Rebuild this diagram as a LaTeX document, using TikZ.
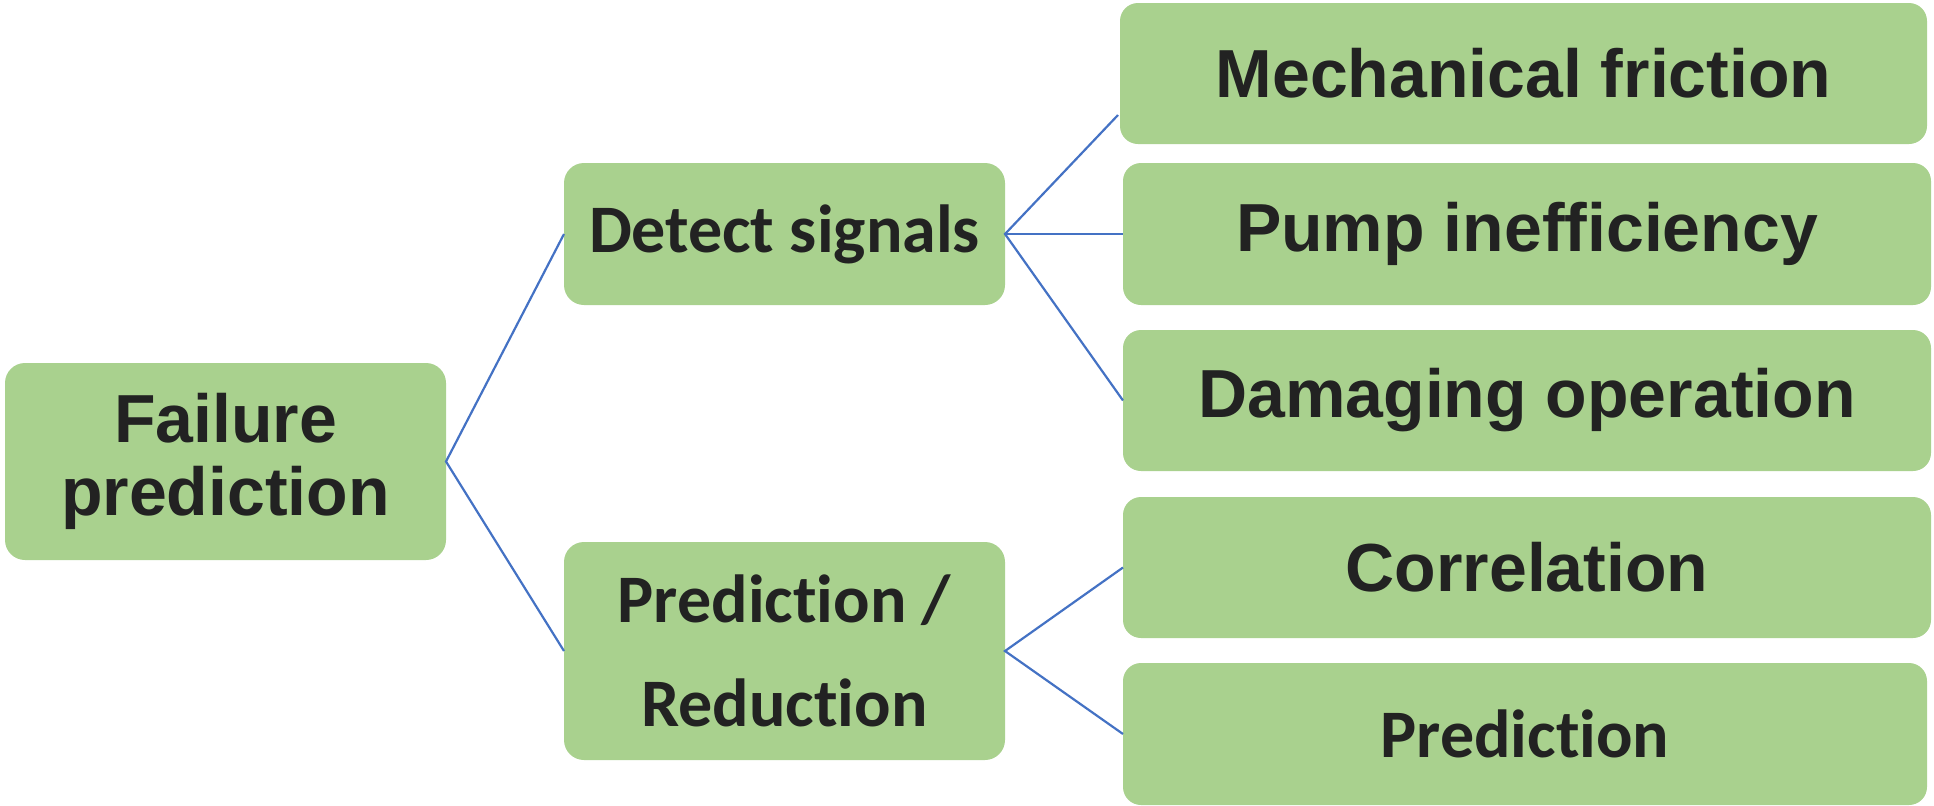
\documentclass[tikz,border=0pt]{standalone}
\usepackage{fontspec}
\setmainfont{Liberation Sans}
\newfontfamily\carlito[Ligatures=NoCommon]{Carlito}
\usetikzlibrary{calc}
\definecolor{boxgreen}{HTML}{A9D18E}
\definecolor{linkblue}{HTML}{4472C4}
\definecolor{textdark}{HTML}{222222}
\tikzset{
  box/.style={rectangle, rounded corners=9pt, fill=boxgreen, draw=none,
    inner sep=0pt, outer sep=0pt, align=center, text=textdark,
    font=\bfseries\fontsize{34}{36.5}\selectfont},
  bigbox/.style={box, rounded corners=10pt},
  link/.style={draw=linkblue, line width=1.1pt}
}
\begin{document}
\begin{tikzpicture}[x=0.5pt, y=-0.5pt]
\useasboundingbox (0,0) rectangle (1934,805);
% left column
\node[bigbox, minimum width=220.5pt, minimum height=98.5pt] (fail) at (225.5,461.5)
  {Failure\\prediction};
% middle column
\node[bigbox, minimum width=220.5pt, minimum height=71pt,
  font=\carlito\bfseries\fontsize{34}{40}\selectfont] (det) at (784.5,234) {Detect signals};
\node[bigbox, minimum width=220.5pt, minimum height=109pt,
  font=\carlito\bfseries\fontsize{34}{52}\selectfont] (pred) at (784.5,651)
  {Prediction /\\Reduction};
% right column
\node[box, minimum width=403.5pt, minimum height=70.5pt] (mech) at (1523.5,73.5) {Mechanical friction};
\node[box, minimum width=404pt, minimum height=71pt] (pump) at (1527,234) {Pump inefficiency};
\node[box, minimum width=404pt, minimum height=70.5pt] (dam) at (1527,400.5) {Damaging operation};
\node[box, minimum width=404pt, minimum height=70.5pt] (corr) at (1527,567.5) {Correlation};
\node[box, minimum width=402pt, minimum height=71pt,
  font=\carlito\bfseries\fontsize{34}{40}\selectfont] (predn) at (1525,734) {Prediction};
% connectors
\coordinate (mechin) at ($(mech.west)+(-2,41.5)$);
\draw[link] (det.west) -- (fail.east) -- (pred.west);
\draw[link] (mechin) -- (det.east) -- (dam.west);
\draw[link] (det.east) -- (pump.west);
\draw[link] (corr.west) -- (pred.east) -- (predn.west);
\end{tikzpicture}
\end{document}
